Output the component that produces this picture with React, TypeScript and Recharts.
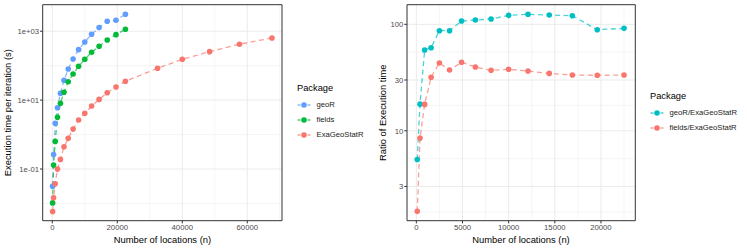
import { LineChart, Line, XAxis, YAxis, CartesianGrid, ReferenceArea } from 'recharts';

// number of locations (n) used in the benchmark
const nShared = [100, 400, 900, 1600, 2500, 3600, 4900, 6400, 8100, 10000, 12100, 14400, 16900, 19600, 22500];
const nExtra = [32400, 40000, 48400, 57600, 67600];

// execution time per iteration (s)
const geoRTime = [0.0318, 0.265, 2.12, 6.01, 15.8, 37.6, 80, 157, 292, 489, 818, 1273, 1954, 2089, 3120];
const fieldsTime = [0.0104, 0.13, 0.634, 3.16, 8.07, 16.9, 34.3, 57.4, 96, 153, 245, 366, 558, 796, 1143];
const exaTime = [0.00585, 0.0146, 0.0372, 0.0993, 0.19, 0.442, 0.776, 1.44, 2.64, 4.13, 6.74, 10.5, 16.4, 24.0, 35.2, 84, 153, 255, 419, 638];

// ratio of execution time
const geoRRatio = [5.38, 17.8, 57.4, 60.3, 87.1, 87.1, 107.4, 109.8, 112.1, 121.5, 124.2, 122.3, 120.5, 89.0, 91.7];
const fieldsRatio = [1.75, 8.54, 17.7, 31.8, 43.3, 37.2, 44.0, 39.7, 37.0, 37.8, 36.4, 34.6, 33.4, 33.2, 33.4];

// axis ticks / grid lines
const leftXTicks = [0, 20000, 40000, 60000];
const leftXMinor = [10000, 30000, 50000, 70000];
const leftYTicks = [0.1, 10, 1000];
const leftYMinor = [0.01, 1, 100];
const rightXTicks = [0, 5000, 10000, 15000, 20000];
const rightXMinor = [2500, 7500, 12500, 17500, 22500];
const rightYTicks = [3, 10, 30, 100];
const rightYMinor = [1.732, 5.477, 17.32, 54.77];

const BLUE = '#619CFF';
const GREEN = '#00BA38';
const RED = '#F8766D';
const CYAN = '#00BFC4';
const FONT = '"Liberation Sans", Arial, Helvetica, sans-serif';

const allN = [...nShared, ...nExtra];
const pts = (ns: number[], vs: number[]) => ns.map((n, i) => ({ n, v: vs[i] }));

const sci = (v: number) => {
  const e = Math.round(Math.log10(v));
  return `1e${e < 0 ? '-' : '+'}${String(Math.abs(e)).padStart(2, '0')}`;
};

const tickStyle = { fill: '#4D4D4D', fontSize: 7.7, fontFamily: FONT };

type Series = { name: string; color: string; data: { n: number; v: number }[] };

const Panel = ({
  width, margin, xDomain, yDomain, xTicks, xMinor, yTicks, yMinor, yFmt, series,
}: {
  width: number;
  margin: { top: number; right: number; bottom: number; left: number };
  xDomain: [number, number];
  yDomain: [number, number];
  xTicks: number[];
  xMinor: number[];
  yTicks: number[];
  yMinor: number[];
  yFmt: (v: number) => string;
  series: Series[];
}) => (
  <LineChart width={width} height={249} margin={margin}>
    <CartesianGrid stroke="#F3F3F3" strokeWidth={0.8} horizontalValues={yMinor} verticalValues={xMinor} />
    <CartesianGrid stroke="#EBEBEB" strokeWidth={1} horizontalValues={yTicks} verticalValues={xTicks} />
    <XAxis
      type="number"
      dataKey="n"
      domain={xDomain}
      allowDataOverflow
      ticks={xTicks}
      axisLine={false}
      tickLine={{ stroke: '#333333' }}
      tickSize={2.7}
      tickMargin={1.5}
      tick={tickStyle}
      height={20.3}
    />
    <YAxis
      type="number"
      dataKey="v"
      scale="log"
      domain={yDomain}
      allowDataOverflow
      ticks={yTicks}
      tickFormatter={yFmt}
      axisLine={false}
      tickLine={{ stroke: '#333333' }}
      tickSize={2.7}
      tickMargin={1}
      tick={tickStyle}
      width={30}
    />
    {series.map((s) => (
      <Line
        key={s.name}
        data={s.data}
        dataKey="v"
        name={s.name}
        type="linear"
        stroke={s.color}
        strokeOpacity={0.7}
        strokeWidth={1.3}
        strokeDasharray="5 3.5"
        dot={{ r: 2.8, fill: s.color, stroke: 'none', strokeDasharray: '' }}
        activeDot={false}
        isAnimationActive={false}
      />
    ))}
    <ReferenceArea
      x1={xDomain[0]}
      x2={xDomain[1]}
      y1={yDomain[0]}
      y2={yDomain[1]}
      fill="none"
      stroke="#333333"
      strokeWidth={1}
      ifOverflow="visible"
    />
  </LineChart>
);

const LegendBox = ({ left, top, labels, colors }: { left: number; top: number; labels: string[]; colors: string[] }) => (
  <div style={{ position: 'absolute', left, top, fontFamily: FONT }}>
    <div style={{ fontSize: 9.3, lineHeight: '11px', color: '#000', height: 11 }}>Package</div>
    {labels.map((l, i) => (
      <div key={l} style={{ display: 'flex', alignItems: 'center', height: 15.2, marginTop: i === 0 ? 3.5 : 0 }}>
        <svg width={14} height={10} style={{ display: 'block' }}>
          <line x1={0.5} y1={5} x2={13.5} y2={5} stroke={colors[i]} strokeOpacity={0.7} strokeWidth={1.3} strokeDasharray="3 2" />
          <circle cx={7} cy={5} r={2.8} fill={colors[i]} />
        </svg>
        <span style={{ fontSize: 7.7, color: '#1a1a1a', marginLeft: 5.5, lineHeight: '10px' }}>{l}</span>
      </div>
    ))}
  </div>
);

export default function App() {
  const leftSeries: Series[] = [
    { name: 'geoR', color: BLUE, data: pts(nShared, geoRTime) },
    { name: 'fields', color: GREEN, data: pts(nShared, fieldsTime) },
    { name: 'ExaGeoStatR', color: RED, data: pts(allN, exaTime) },
  ];
  const rightSeries: Series[] = [
    { name: 'geoR/ExaGeoStatR', color: CYAN, data: pts(nShared, geoRRatio) },
    { name: 'fields/ExaGeoStatR', color: RED, data: pts(nShared, fieldsRatio) },
  ];

  return (
    <div style={{ position: 'absolute', left: 0, top: 0, width: 747, height: 249, background: '#fff', fontFamily: FONT }}>
      <div style={{ position: 'absolute', left: 0, top: 0 }}>
        <Panel
          width={290}
          margin={{ top: 4.7, right: 8, bottom: 8, left: 12.7 }}
          xDomain={[-2950, 70680]}
          yDomain={[0.00316, 5890]}
          xTicks={leftXTicks}
          xMinor={leftXMinor}
          yTicks={leftYTicks}
          yMinor={leftYMinor}
          yFmt={sci}
          series={leftSeries}
        />
      </div>
      <div style={{ position: 'absolute', left: 370, top: 0 }}>
        <Panel
          width={275}
          margin={{ top: 4.7, right: 9.7, bottom: 8, left: 7 }}
          xDomain={[-1010, 23720]}
          yDomain={[1.43, 152.9]}
          xTicks={rightXTicks}
          xMinor={rightXMinor}
          yTicks={rightYTicks}
          yMinor={rightYMinor}
          yFmt={(v: number) => String(v)}
          series={rightSeries}
        />
      </div>
      <svg width={747} height={249} style={{ position: 'absolute', left: 0, top: 0, pointerEvents: 'none' }}>
        <g fontFamily={FONT} fontSize={9.4} fill="#000">
          <text x={162.4} y={239} textAnchor="middle" dominantBaseline="central">Number of locations (n)</text>
          <text x={8} y={112.7} textAnchor="middle" dominantBaseline="central" transform="rotate(-90 8 112.7)">
            Execution time per iteration (s)
          </text>
          <text x={521} y={239} textAnchor="middle" dominantBaseline="central">Number of locations (n)</text>
          <text x={382.5} y={112.7} textAnchor="middle" dominantBaseline="central" transform="rotate(-90 382.5 112.7)">
            Ratio of Execution time
          </text>
        </g>
      </svg>
      <LegendBox left={297} top={83} labels={leftSeries.map((s) => s.name)} colors={leftSeries.map((s) => s.color)} />
      <LegendBox left={650} top={90.5} labels={rightSeries.map((s) => s.name)} colors={rightSeries.map((s) => s.color)} />
    </div>
  );
}
